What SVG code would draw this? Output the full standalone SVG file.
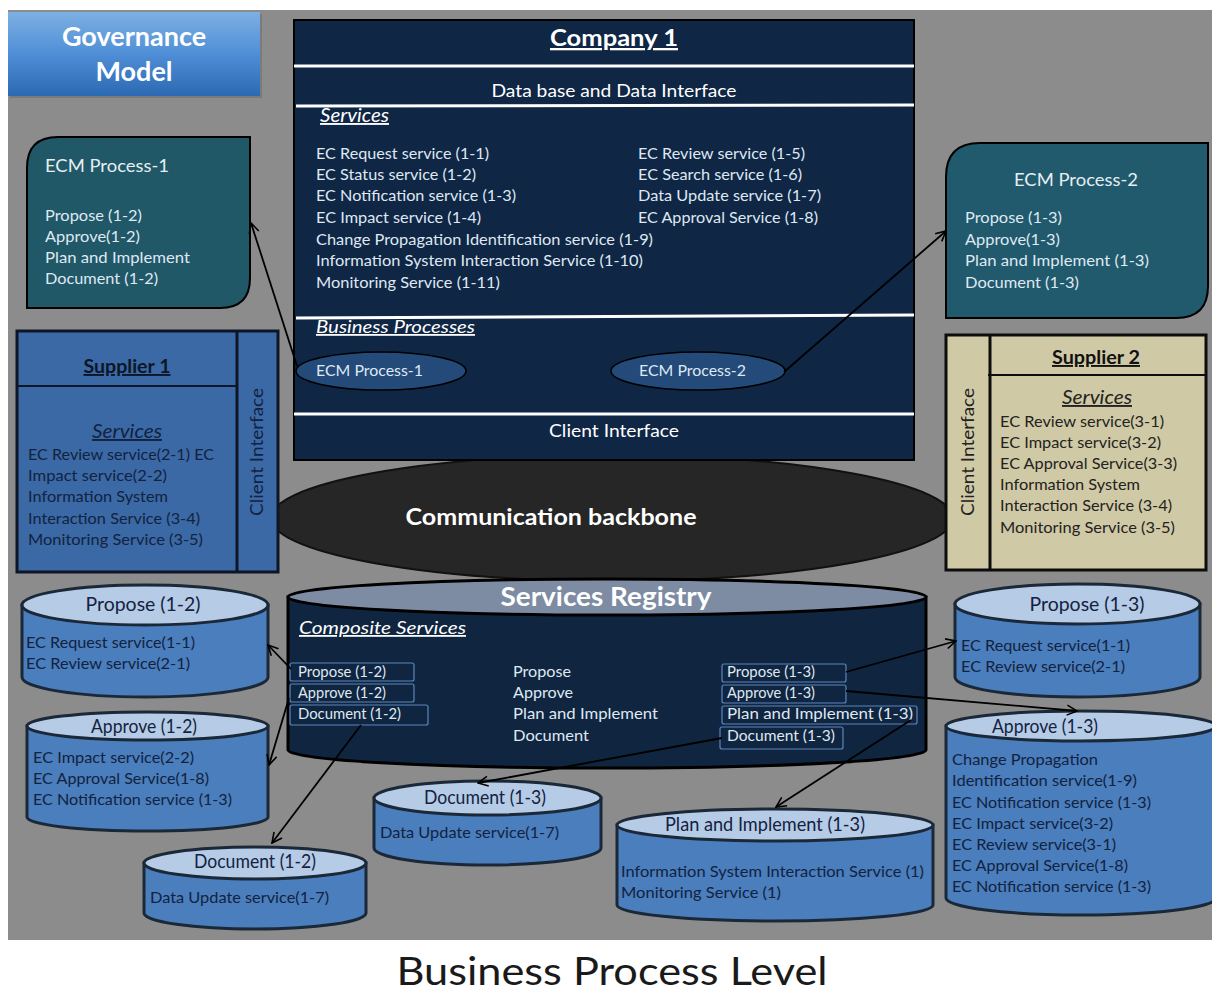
<svg xmlns="http://www.w3.org/2000/svg" width="1212" height="993" viewBox="0 0 1212 993">
<defs>
<linearGradient id="gov" x1="0" y1="0" x2="0" y2="1">
<stop offset="0" stop-color="#7db0e3"/>
<stop offset="0.5" stop-color="#4f8ed6"/>
<stop offset="1" stop-color="#2c69b3"/>
</linearGradient>
<marker id="arr" viewBox="0 0 12 12" refX="11" refY="6" markerWidth="12" markerHeight="12" markerUnits="userSpaceOnUse" orient="auto">
<path d="M1,1 L11,6 L1,11" fill="none" stroke="#000" stroke-width="1.6"/>
</marker>
<style>
text{font-family:Lato,"Liberation Sans",sans-serif;}
.w{fill:#ffffff;}
.lt{fill:#dfe8f3;}
.dk{fill:#13223f;}
.hd{font-weight:bold;}
.u{text-decoration:underline;}
.it{font-style:italic;}
.wl{stroke:#ffffff;stroke-width:3;}
.cylb{fill:#4a7ebc;stroke:#1b2838;stroke-width:3;}
.cylt{fill:#b5cbe6;stroke:#1b2838;stroke-width:3;}
.box{fill:none;stroke:#5a86c0;stroke-width:1.2;}
.con{stroke:#000;stroke-width:1.8;fill:none;marker-end:url(#arr);}
</style>
</defs>
<rect x="0" y="0" width="1212" height="993" fill="#ffffff"/>
<rect x="8" y="10" width="1204" height="930" fill="#8c8c8c"/>

<g id="governance">
<rect x="10" y="14" width="252" height="84" fill="#6f6f6f" opacity="0.6"/>
<rect x="8" y="12" width="252" height="84" fill="url(#gov)"/>
<text x="134" y="46" text-anchor="middle" class="w hd" font-size="27">Governance</text>
<text x="134" y="81" text-anchor="middle" class="w hd" font-size="27">Model</text>
</g>

<g id="backbone">
<ellipse cx="612" cy="518" rx="341" ry="63" fill="#262626" stroke="#111" stroke-width="2"/>
<text x="551" y="525" text-anchor="middle" class="w hd" font-size="22" textLength="291" lengthAdjust="spacingAndGlyphs">Communication backbone</text>
</g>

<g id="company1" font-size="16">
<rect x="294" y="20" width="620" height="440" fill="#0f2644" stroke="#000" stroke-width="2"/>
<text x="614" y="46" text-anchor="middle" class="w hd u" font-size="23" textLength="128" lengthAdjust="spacingAndGlyphs">Company 1</text>
<line x1="294" y1="66" x2="914" y2="66" class="wl"/>
<text x="614" y="97" text-anchor="middle" class="w" font-size="18" textLength="245" lengthAdjust="spacingAndGlyphs">Data base and Data Interface</text>
<line x1="296" y1="106" x2="914" y2="105" class="wl"/>
<text x="320" y="122" class="w it u" font-size="19" textLength="69" lengthAdjust="spacingAndGlyphs">Services</text>
<text x="316" y="159" class="lt" textLength="173" lengthAdjust="spacingAndGlyphs">EC Request service (1-1)</text>
<text x="316" y="180" class="lt" textLength="160" lengthAdjust="spacingAndGlyphs">EC Status service (1-2)</text>
<text x="316" y="201" class="lt" textLength="200" lengthAdjust="spacingAndGlyphs">EC Notification service (1-3)</text>
<text x="316" y="223" class="lt" textLength="165" lengthAdjust="spacingAndGlyphs">EC Impact service (1-4)</text>
<text x="316" y="245" class="lt" textLength="337" lengthAdjust="spacingAndGlyphs">Change Propagation Identification service (1-9)</text>
<text x="316" y="266" class="lt" textLength="327" lengthAdjust="spacingAndGlyphs">Information System  Interaction Service (1-10)</text>
<text x="316" y="288" class="lt" textLength="184" lengthAdjust="spacingAndGlyphs">Monitoring Service (1-11)</text>
<text x="638" y="159" class="lt" textLength="167" lengthAdjust="spacingAndGlyphs">EC Review service (1-5)</text>
<text x="638" y="180" class="lt" textLength="164" lengthAdjust="spacingAndGlyphs">EC Search service (1-6)</text>
<text x="638" y="201" class="lt" textLength="183" lengthAdjust="spacingAndGlyphs">Data Update service (1-7)</text>
<text x="638" y="223" class="lt" textLength="180" lengthAdjust="spacingAndGlyphs">EC Approval Service (1-8)</text>
<line x1="296" y1="318" x2="914" y2="315" class="wl"/>
<text x="316" y="333" class="w it u" font-size="18" textLength="159" lengthAdjust="spacingAndGlyphs">Business Processes</text>
<ellipse cx="381" cy="371" rx="85" ry="19" fill="#234a78" stroke="#000" stroke-width="1.5"/>
<text x="316" y="376" class="lt" font-size="15" textLength="107" lengthAdjust="spacingAndGlyphs">ECM Process-1</text>
<ellipse cx="698" cy="371" rx="87" ry="19" fill="#234a78" stroke="#000" stroke-width="1.5"/>
<text x="639" y="376" class="lt" font-size="15" textLength="107" lengthAdjust="spacingAndGlyphs">ECM Process-2</text>
<line x1="294" y1="414" x2="914" y2="414" class="wl"/>
<text x="614" y="437" text-anchor="middle" class="w" font-size="18" textLength="130" lengthAdjust="spacingAndGlyphs">Client Interface</text>
</g>

<g id="ecm1" font-size="16">
<path d="M58,137 L250,137 L250,278 Q250,308 220,308 L27,308 L27,168 Q27,137 58,137 Z" fill="#215868" stroke="#000" stroke-width="2"/>
<text x="45" y="172" font-size="18" fill="#e6eef2" textLength="124" lengthAdjust="spacingAndGlyphs">ECM Process-1</text>
<text x="45" y="221" class="lt" textLength="97" lengthAdjust="spacingAndGlyphs">Propose (1-2)</text>
<text x="45" y="242" class="lt" textLength="95" lengthAdjust="spacingAndGlyphs">Approve(1-2)</text>
<text x="45" y="263" class="lt" textLength="145" lengthAdjust="spacingAndGlyphs">Plan and Implement</text>
<text x="45" y="284" class="lt" textLength="113" lengthAdjust="spacingAndGlyphs">Document (1-2)</text>
</g>

<g id="ecm2" font-size="16">
<path d="M980,143 L1208,143 L1208,286 Q1208,318 1176,318 L946,318 L946,177 Q946,143 980,143 Z" fill="#215a6c" stroke="#000" stroke-width="2"/>
<text x="1076" y="186" text-anchor="middle" font-size="18" fill="#e6eef2" textLength="124" lengthAdjust="spacingAndGlyphs">ECM Process-2</text>
<text x="965" y="223" class="lt" textLength="97" lengthAdjust="spacingAndGlyphs">Propose (1-3)</text>
<text x="965" y="245" class="lt" textLength="95" lengthAdjust="spacingAndGlyphs">Approve(1-3)</text>
<text x="965" y="266" class="lt" textLength="184" lengthAdjust="spacingAndGlyphs">Plan and Implement (1-3)</text>
<text x="965" y="288" class="lt" textLength="114" lengthAdjust="spacingAndGlyphs">Document (1-3)</text>
</g>

<g id="supplier1" font-size="16">
<rect x="17" y="331" width="261" height="241" fill="#3a69a5" stroke="#0d1626" stroke-width="3"/>
<line x1="237" y1="331" x2="237" y2="572" stroke="#0d1626" stroke-width="3"/>
<line x1="17" y1="386" x2="237" y2="386" stroke="#0d1626" stroke-width="2"/>
<text x="127" y="373" text-anchor="middle" class="hd u" font-size="19" fill="#0d1626" textLength="87" lengthAdjust="spacingAndGlyphs">Supplier 1</text>
<text x="127" y="438" text-anchor="middle" class="dk it u" font-size="19" textLength="70" lengthAdjust="spacingAndGlyphs">Services</text>
<text x="28" y="460" class="dk" textLength="186" lengthAdjust="spacingAndGlyphs">EC Review service(2-1) EC</text>
<text x="28" y="481" class="dk" textLength="139" lengthAdjust="spacingAndGlyphs">Impact service(2-2)</text>
<text x="28" y="502" class="dk" textLength="140" lengthAdjust="spacingAndGlyphs">Information System</text>
<text x="28" y="524" class="dk" textLength="172" lengthAdjust="spacingAndGlyphs">Interaction Service (3-4)</text>
<text x="28" y="545" class="dk" textLength="175" lengthAdjust="spacingAndGlyphs">Monitoring Service (3-5)</text>
<text transform="translate(263,452) rotate(-90)" text-anchor="middle" class="dk" font-size="17" textLength="128" lengthAdjust="spacingAndGlyphs">Client Interface</text>
</g>

<g id="supplier2" font-size="16">
<rect x="946" y="335" width="260" height="235" fill="#d0c9a5" stroke="#0d0d0d" stroke-width="3"/>
<line x1="990" y1="335" x2="990" y2="570" stroke="#0d0d0d" stroke-width="3"/>
<line x1="988" y1="375" x2="1206" y2="375" stroke="#0d0d0d" stroke-width="2"/>
<text x="1096" y="364" text-anchor="middle" class="hd u" font-size="19" fill="#111" textLength="88" lengthAdjust="spacingAndGlyphs">Supplier 2</text>
<text x="1097" y="404" text-anchor="middle" class="it u" font-size="19" fill="#222" textLength="70" lengthAdjust="spacingAndGlyphs">Services</text>
<text x="1000" y="427" fill="#222" textLength="164" lengthAdjust="spacingAndGlyphs">EC Review service(3-1)</text>
<text x="1000" y="448" fill="#222" textLength="161" lengthAdjust="spacingAndGlyphs">EC Impact service(3-2)</text>
<text x="1000" y="469" fill="#222" textLength="177" lengthAdjust="spacingAndGlyphs">EC Approval Service(3-3)</text>
<text x="1000" y="490" fill="#222" textLength="140" lengthAdjust="spacingAndGlyphs">Information System</text>
<text x="1000" y="511" fill="#222" textLength="172" lengthAdjust="spacingAndGlyphs">Interaction Service (3-4)</text>
<text x="1000" y="533" fill="#222" textLength="175" lengthAdjust="spacingAndGlyphs">Monitoring Service (3-5)</text>
<text transform="translate(974,452) rotate(-90)" text-anchor="middle" font-size="17" fill="#222" textLength="128" lengthAdjust="spacingAndGlyphs">Client Interface</text>
</g>

<g id="registry" font-size="16">
<path d="M288,597 L288,750 A319,18 0 0 0 926,750 L926,597 Z" fill="#10253f" stroke="#000" stroke-width="3"/>
<ellipse cx="607" cy="597" rx="319" ry="18" fill="#7d8ca3" stroke="#000" stroke-width="3"/>
<text x="606" y="606" text-anchor="middle" class="w hd" font-size="26" textLength="211" lengthAdjust="spacingAndGlyphs">Services Registry</text>
<text x="299" y="634" class="w it u" font-size="18" textLength="167" lengthAdjust="spacingAndGlyphs">Composite  Services</text>
<rect x="290" y="663" width="124" height="18" rx="2" class="box"/>
<rect x="290" y="684" width="124" height="18" rx="2" class="box"/>
<rect x="290" y="705" width="138" height="20" rx="2" class="box"/>
<text x="298" y="677" class="lt" textLength="88" lengthAdjust="spacingAndGlyphs">Propose (1-2)</text>
<text x="298" y="698" class="lt" textLength="88" lengthAdjust="spacingAndGlyphs">Approve (1-2)</text>
<text x="298" y="719" class="lt" textLength="103" lengthAdjust="spacingAndGlyphs">Document (1-2)</text>
<text x="513" y="677" class="lt" textLength="58" lengthAdjust="spacingAndGlyphs">Propose</text>
<text x="513" y="698" class="lt" textLength="60" lengthAdjust="spacingAndGlyphs">Approve</text>
<text x="513" y="719" class="lt" textLength="145" lengthAdjust="spacingAndGlyphs">Plan and Implement</text>
<text x="513" y="741" class="lt" textLength="76" lengthAdjust="spacingAndGlyphs">Document</text>
<rect x="722" y="664" width="124" height="18" rx="2" class="box"/>
<rect x="722" y="685" width="124" height="18" rx="2" class="box"/>
<rect x="722" y="706" width="195" height="18" rx="2" class="box"/>
<rect x="720" y="727" width="123" height="22" rx="2" class="box"/>
<text x="727" y="677" class="lt" textLength="88" lengthAdjust="spacingAndGlyphs">Propose (1-3)</text>
<text x="727" y="698" class="lt" textLength="88" lengthAdjust="spacingAndGlyphs">Approve (1-3)</text>
<text x="727" y="719" class="lt" textLength="186" lengthAdjust="spacingAndGlyphs">Plan and Implement (1-3)</text>
<text x="727" y="741" class="lt" textLength="108" lengthAdjust="spacingAndGlyphs">Document (1-3)</text>
</g>

<g id="propose12" font-size="16">
<path d="M22,605 L22,677 A123,20 0 0 0 268,677 L268,605 Z" class="cylb"/>
<ellipse cx="145" cy="605" rx="123" ry="20" class="cylt"/>
<text x="143" y="611" text-anchor="middle" class="dk" font-size="19" textLength="115" lengthAdjust="spacingAndGlyphs">Propose (1-2)</text>
<text x="26" y="648" class="dk" textLength="169" lengthAdjust="spacingAndGlyphs">EC Request service(1-1)</text>
<text x="26" y="669" class="dk" textLength="164" lengthAdjust="spacingAndGlyphs">EC Review service(2-1)</text>
</g>

<g id="approve12" font-size="16">
<path d="M27,726 L27,817 A120.5,14 0 0 0 268,817 L268,726 Z" class="cylb"/>
<ellipse cx="147.5" cy="726" rx="120.5" ry="14" class="cylt"/>
<text x="144" y="733" text-anchor="middle" class="dk" font-size="19" textLength="106" lengthAdjust="spacingAndGlyphs">Approve (1-2)</text>
<text x="33" y="763" class="dk" textLength="161" lengthAdjust="spacingAndGlyphs">EC Impact service(2-2)</text>
<text x="33" y="784" class="dk" textLength="176" lengthAdjust="spacingAndGlyphs">EC Approval Service(1-8)</text>
<text x="33" y="805" class="dk" textLength="199" lengthAdjust="spacingAndGlyphs">EC Notification service (1-3)</text>
</g>

<g id="document12" font-size="16">
<path d="M144,863 L144,913 A111,16 0 0 0 366,913 L366,863 Z" class="cylb"/>
<ellipse cx="255" cy="863" rx="111" ry="16" class="cylt"/>
<text x="255" y="868" text-anchor="middle" class="dk" font-size="19" textLength="122" lengthAdjust="spacingAndGlyphs">Document  (1-2)</text>
<text x="150" y="903" class="dk" textLength="179" lengthAdjust="spacingAndGlyphs">Data Update service(1-7)</text>
</g>

<g id="document13" font-size="16">
<path d="M374,798 L374,848 A113.5,17 0 0 0 601,848 L601,798 Z" class="cylb"/>
<ellipse cx="487.5" cy="798" rx="113.5" ry="17" class="cylt"/>
<text x="485" y="804" text-anchor="middle" class="dk" font-size="19" textLength="122" lengthAdjust="spacingAndGlyphs">Document  (1-3)</text>
<text x="380" y="838" class="dk" textLength="179" lengthAdjust="spacingAndGlyphs">Data Update service(1-7)</text>
</g>

<g id="plan13" font-size="16">
<path d="M617,825 L617,905 A158,16 0 0 0 933,905 L933,825 Z" class="cylb"/>
<ellipse cx="775" cy="825" rx="158" ry="16" class="cylt"/>
<text x="765" y="831" text-anchor="middle" class="dk" font-size="19" textLength="200" lengthAdjust="spacingAndGlyphs">Plan and Implement  (1-3)</text>
<text x="621" y="877" class="dk" textLength="303" lengthAdjust="spacingAndGlyphs">Information System Interaction Service (1)</text>
<text x="621" y="898" class="dk" textLength="160" lengthAdjust="spacingAndGlyphs">Monitoring Service (1)</text>
</g>

<g id="propose13" font-size="16">
<path d="M955,604 L955,677 A122.5,20 0 0 0 1200,677 L1200,604 Z" class="cylb"/>
<ellipse cx="1077.5" cy="604" rx="122.5" ry="20" class="cylt"/>
<text x="1087" y="611" text-anchor="middle" class="dk" font-size="19" textLength="115" lengthAdjust="spacingAndGlyphs">Propose (1-3)</text>
<text x="961" y="651" class="dk" textLength="169" lengthAdjust="spacingAndGlyphs">EC Request service(1-1)</text>
<text x="961" y="672" class="dk" textLength="164" lengthAdjust="spacingAndGlyphs">EC Review service(2-1)</text>
</g>

<g id="approve13" font-size="16">
<path d="M946,726 L946,898 A135,17 0 0 0 1216,898 L1216,726 Z" class="cylb"/>
<ellipse cx="1081" cy="726" rx="135" ry="15" class="cylt"/>
<text x="1045" y="733" text-anchor="middle" class="dk" font-size="19" textLength="106" lengthAdjust="spacingAndGlyphs">Approve (1-3)</text>
<text x="952" y="765" class="dk" textLength="146" lengthAdjust="spacingAndGlyphs">Change Propagation</text>
<text x="952" y="786" class="dk" textLength="185" lengthAdjust="spacingAndGlyphs">Identification service(1-9)</text>
<text x="952" y="808" class="dk" textLength="199" lengthAdjust="spacingAndGlyphs">EC Notification service (1-3)</text>
<text x="952" y="829" class="dk" textLength="161" lengthAdjust="spacingAndGlyphs">EC Impact service(3-2)</text>
<text x="952" y="850" class="dk" textLength="164" lengthAdjust="spacingAndGlyphs">EC Review service(3-1)</text>
<text x="952" y="871" class="dk" textLength="176" lengthAdjust="spacingAndGlyphs">EC Approval Service(1-8)</text>
<text x="952" y="892" class="dk" textLength="199" lengthAdjust="spacingAndGlyphs">EC Notification service (1-3)</text>
</g>

<g id="connectors">
<line x1="297" y1="366" x2="251" y2="223" class="con"/>
<line x1="784" y1="372" x2="946" y2="231" class="con"/>
<line x1="291" y1="669" x2="268" y2="645" class="con"/>
<line x1="289" y1="698" x2="269" y2="765" class="con"/>
<line x1="361" y1="725" x2="272" y2="843" class="con"/>
<line x1="722" y1="738" x2="478" y2="783" class="con"/>
<line x1="911" y1="720" x2="776" y2="807" class="con"/>
<line x1="846" y1="672" x2="956" y2="641" class="con"/>
<line x1="846" y1="691" x2="1077" y2="711" class="con"/>
</g>

<text x="612" y="985" text-anchor="middle" font-size="39" fill="#1a1a1a" textLength="431" lengthAdjust="spacingAndGlyphs">Business Process Level</text>
</svg>
